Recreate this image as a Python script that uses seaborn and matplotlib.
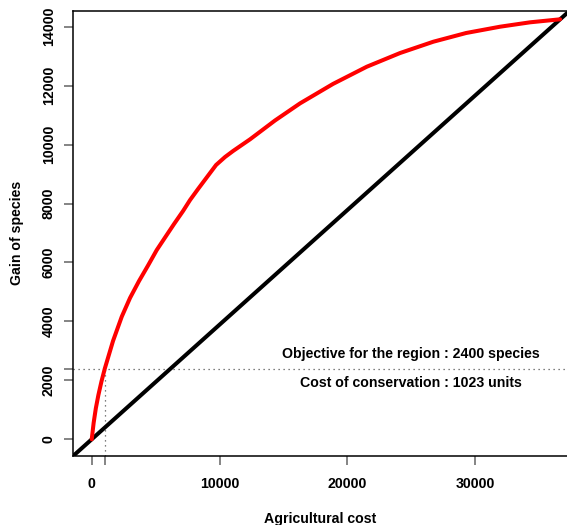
import matplotlib
matplotlib.use("Agg")
import matplotlib.pyplot as plt
import seaborn as sns
import pandas as pd

# Cumulative gain of species against agricultural cost
cost = [0, 150, 320, 520, 760, 1023, 1667, 2348, 2998, 3702, 4406, 5087,
        5737, 6441, 7146, 7694, 8320, 9024, 9729, 10433, 11059, 12390,
        14346, 16303, 18885, 21523, 24130, 26736, 29295, 31956, 34304, 36652]
gain = [0, 560, 1050, 1500, 1960, 2400, 3338, 4160, 4798, 5372, 5898, 6423,
        6848, 7306, 7747, 8120, 8493, 8901, 9308, 9580, 9783, 10180,
        10820, 11400, 12060, 12643, 13108, 13492, 13787, 14001, 14150, 14252]

objective_species = 2400
conservation_cost = 1023

x_ticks = [0, 10000, 20000, 30000]
y_ticks = [0, 2000, 4000, 6000, 8000, 10000, 12000, 14000]

sns.set_style("white")
plt.rcParams["font.family"] = ["Liberation Sans", "DejaVu Sans"]
plt.rcParams["font.weight"] = "bold"
plt.rcParams["text.color"] = "black"
plt.rcParams["axes.labelcolor"] = "black"
plt.rcParams["xtick.labelcolor"] = "black"
plt.rcParams["ytick.labelcolor"] = "black"

df = pd.DataFrame({"cost": cost, "gain": gain})

fig = plt.figure(figsize=(5.67, 5.25), dpi=100)
ax = fig.add_axes([73 / 567, (525 - 456) / 525, (567 - 73) / 567, (456 - 10.7) / 525])

ymin, ymax = -567, 14544
ax.set_xlim(-1466, 37191)
ax.set_ylim(ymin, ymax)

# reference diagonal through the origin and the end of the curve
ax.axline((0, 0), (cost[-1], gain[-1]), color="black", lw=2.9, zorder=3)

sns.lineplot(data=df, x="cost", y="gain", ax=ax, color="#ff0000", lw=2.9,
             sort=False, zorder=4)

dot = dict(color="#555555", lw=0.9, linestyle=(0, (1, 3)), zorder=2)
ax.axhline(objective_species, **dot)
ax.plot([conservation_cost, conservation_cost], [ymin, objective_species], **dot)

ax.text(25000, 2894, f"Objective for the region : {objective_species} species",
        ha="center", va="center", fontsize=10.2, fontweight="bold", color="black")
ax.text(25000, 1910, f"Cost of conservation : {conservation_cost} units",
        ha="center", va="center", fontsize=10.2, fontweight="bold", color="black")

ax.set_xticks(x_ticks + [conservation_cost])
ax.set_xticklabels([str(t) for t in x_ticks] + [""])
ax.set_yticks(y_ticks + [objective_species])
ax.set_yticklabels([str(t) for t in y_ticks] + [""])
for lab in ax.get_yticklabels():
    lab.set_rotation(90)
    lab.set_va("center")

ax.tick_params(axis="both", which="major", direction="out", length=6.5, width=1.2,
               color="#707070", labelcolor="black", labelsize=10.2,
               bottom=True, left=True)
ax.tick_params(axis="x", pad=8.5)
ax.tick_params(axis="y", pad=6)
for lab in ax.get_xticklabels() + ax.get_yticklabels():
    lab.set_fontweight("bold")

for side in ("left", "bottom", "top"):
    ax.spines[side].set_color("black")
    ax.spines[side].set_linewidth(1.1)
ax.spines["right"].set_visible(False)

ax.set_xlabel("Agricultural cost", fontsize=10.2, fontweight="bold", labelpad=15,
              color="black")
ax.set_ylabel("Gain of species", fontsize=10.2, fontweight="bold", labelpad=13,
              color="black")

fig.savefig("out.png", dpi=100)
